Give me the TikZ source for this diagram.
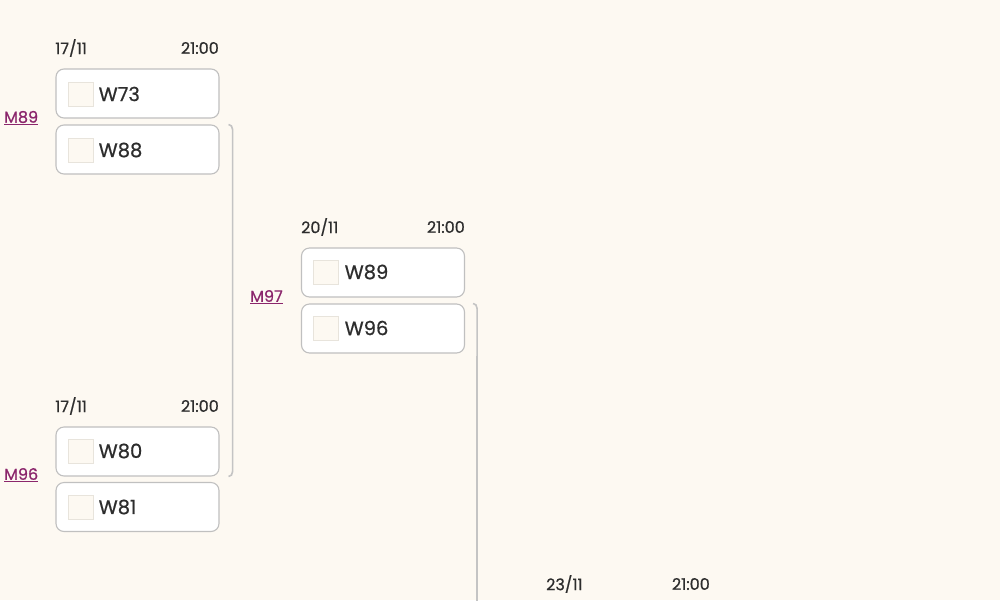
\documentclass[tikz,border=0pt]{standalone}
\usepackage{fontspec}
\setmainfont{Poppins}[FakeBold=0.7]
\definecolor{bgc}{RGB}{253,249,242}
\definecolor{boxline}{RGB}{192,192,192}
\definecolor{sqline}{RGB}{232,228,220}
\definecolor{txt}{RGB}{45,45,45}
\definecolor{linkc}{RGB}{139,38,108}
\definecolor{brk}{RGB}{196,196,196}
\tikzset{
  teambox/.style={rectangle, rounded corners=8pt, draw=boxline, fill=white, line width=1.1pt, minimum width=163pt, minimum height=49pt, inner sep=0pt},
  flagbox/.style={rectangle, draw=sqline, fill=bgc, line width=0.8pt, minimum width=25pt, minimum height=24pt, inner sep=0pt},
  teamname/.style={anchor=west, inner sep=0pt, text=txt, font=\fontsize{19.5}{21}\selectfont},
  datetxt/.style={inner sep=0pt, text=txt, font=\fontsize{16}{18}\selectfont},
  matchlink/.style={anchor=west, inner sep=0pt, text=linkc, font=\fontsize{16}{18}\selectfont},
  bracket/.style={draw=brk, line width=1.6pt}
}
\begin{document}
\begin{tikzpicture}[x=1pt,y=-1pt]
\fill[bgc] (0,0) rectangle (1000,600);
\useasboundingbox (0,0) rectangle (1000,600);

% Match M89
\node[datetxt, anchor=west] (d1) at (55,48) {17/11};
\node[datetxt, anchor=east] (t1) at (219,48) {21:00};
\node[teambox] (w73) at (137.5,93.5) {};
\node[flagbox] (f73) at (80.5,94) {};
\node[teamname] (n73) at (98.5,94) {W73};
\node[teambox] (w88) at (137.5,149.5) {};
\node[flagbox] (f88) at (80.5,150) {};
\node[teamname] (n88) at (98.5,150) {W88};
\node[matchlink] (m89) at (4,118) {\underline{M89}};

% Match M96
\node[datetxt, anchor=west] (d2) at (55,406) {17/11};
\node[datetxt, anchor=east] (t2) at (219,406) {21:00};
\node[teambox] (w80) at (137.5,451.5) {};
\node[flagbox] (f80) at (80.5,451) {};
\node[teamname] (n80) at (98.5,451) {W80};
\node[teambox] (w81) at (137.5,507) {};
\node[flagbox] (f81) at (80.5,507) {};
\node[teamname] (n81) at (98.5,507) {W81};
\node[matchlink] (m96) at (4,475) {\underline{M96}};

% Match M97
\node[datetxt, anchor=west] (d3) at (301,227) {20/11};
\node[datetxt, anchor=east] (t3) at (465,227) {21:00};
\node[teambox] (w89) at (383,272.5) {};
\node[flagbox] (f89) at (326,272) {};
\node[teamname] (n89) at (344.5,272) {W89};
\node[teambox] (w96) at (383,328.5) {};
\node[flagbox] (f96) at (326,328) {};
\node[teamname] (n96) at (344.5,328) {W96};
\node[matchlink] (m97) at (250,297) {\underline{M97}};

% Next match (partially visible)
\node[datetxt, anchor=west] (d4) at (546,584) {23/11};
\node[datetxt, anchor=east] (t4) at (710,584) {21:00};

% Brackets
\coordinate (b1s) at ([xshift=9pt]w88.north east);
\coordinate (b1e) at ([xshift=9pt]w80.south east);
\draw[bracket] (b1s) to[out=0,in=90] ++(4,5) -- ([xshift=13pt,yshift=5pt]w80.south east) to[out=-90,in=0] (b1e);
\coordinate (b2s) at ([xshift=8pt]w96.north east);
\coordinate (b2e) at (477,605);
\draw[bracket] (b2s) to[out=0,in=90] ++(4,5) -- (b2e);
\end{tikzpicture}
\end{document}
